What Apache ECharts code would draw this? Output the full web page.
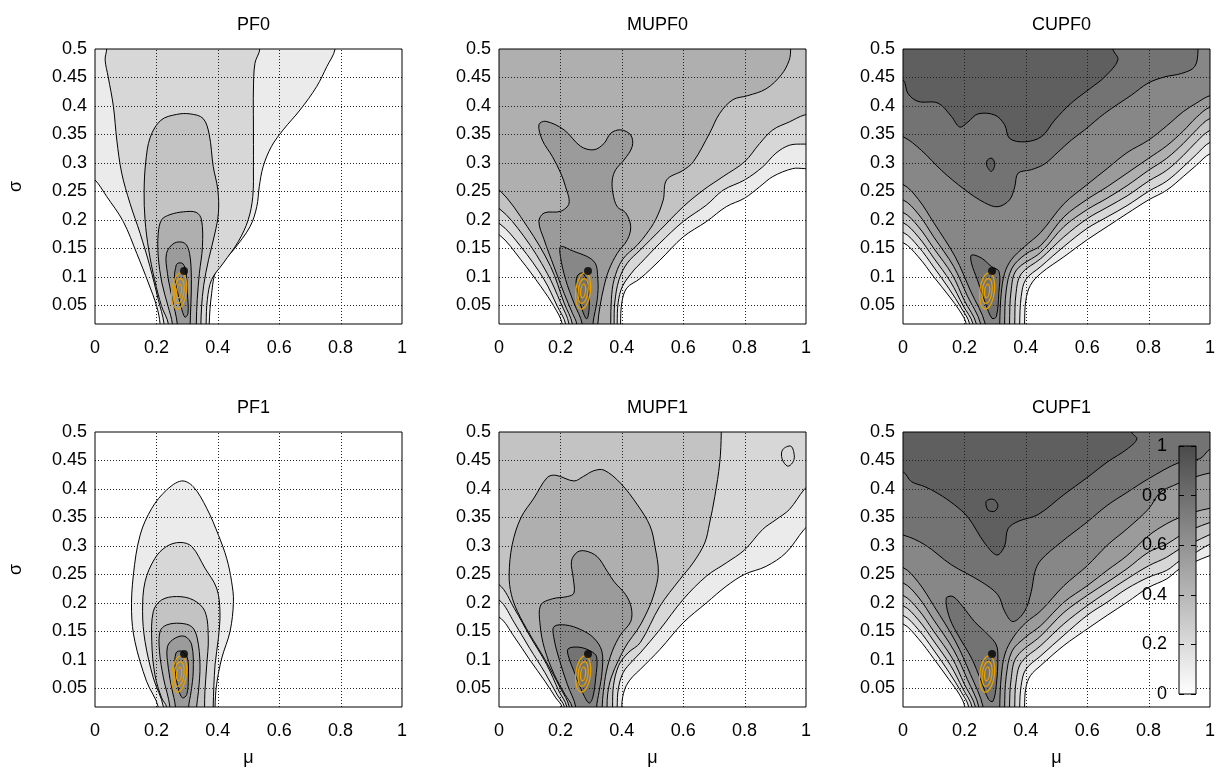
<!DOCTYPE html>
<html><head><meta charset="utf-8">
<script src="https://cdn.jsdelivr.net/npm/echarts@6/dist/echarts.min.js"></script>
<style>html,body{margin:0;padding:0;background:#fff}#c{width:1223px;height:770px}</style>
</head><body><div id="c"></div>
<script>
// ---------- axes / ticks ----------
const xTicks = [0, 0.2, 0.4, 0.6, 0.8, 1];
const yTicks = [0.05, 0.1, 0.15, 0.2, 0.25, 0.3, 0.35, 0.4, 0.45, 0.5];
const Y_MIN = 0.017, Y_MAX = 0.5;
const cbTicks = [0, 0.2, 0.4, 0.6, 0.8, 1];
const panelTitles = ['PF0', 'MUPF0', 'CUPF0', 'PF1', 'MUPF1', 'CUPF1'];
// fill gray for band k = [0.1k, 0.1(k+1)]
const bandColors = ['#ffffff','#ebebeb','#d7d7d7','#c3c3c3','#afafaf','#9b9b9b','#878787','#737373','#5f5f5f','#4b4b4b'];

// ---------- markers (same in every panel) ----------
const ellipseCenter = [0.274, 0.075];
const ellipseRadii = [[0.024, 0.032], [0.016, 0.022], [0.008, 0.012]];
const truthPoint = [0.29, 0.11];

// ---------- PF0 contours (mu, sigma) ----------
const PF0_c1 = [[-0.05,0.6],[-0.05,0.29],[0,0.270],[0.038,0.241],[0.092,0.197],[0.136,0.141],[0.174,0.089],[0.201,0.048],[0.212,0.017],[0.214,-0.03],[0.372,-0.03],[0.372,0.017],[0.380,0.071],[0.396,0.112],[0.451,0.147],[0.505,0.188],[0.527,0.223],[0.535,0.258],[0.548,0.294],[0.575,0.329],[0.613,0.358],[0.668,0.393],[0.722,0.434],[0.755,0.469],[0.782,0.5],[0.80,0.6]];
const PF0_c2 = [[0.04,0.6],[0.038,0.5],[0.033,0.481],[0.043,0.451],[0.060,0.399],[0.071,0.340],[0.087,0.282],[0.114,0.229],[0.147,0.176],[0.179,0.118],[0.206,0.060],[0.225,0.017],[0.227,-0.03],[0.362,-0.03],[0.362,0.017],[0.366,0.060],[0.380,0.095],[0.418,0.124],[0.467,0.162],[0.499,0.200],[0.514,0.241],[0.516,0.294],[0.516,0.370],[0.516,0.428],[0.521,0.475],[0.537,0.5],[0.545,0.6]];
const PF0_c3 = [[0.239,-0.03],[0.239,0.017],[0.217,0.048],[0.194,0.095],[0.175,0.147],[0.163,0.200],[0.160,0.250],[0.165,0.300],[0.180,0.345],[0.215,0.375],[0.265,0.385],[0.310,0.386],[0.352,0.378],[0.372,0.350],[0.385,0.294],[0.400,0.253],[0.402,0.212],[0.390,0.175],[0.370,0.130],[0.354,0.085],[0.347,0.045],[0.345,0.017],[0.345,-0.03]];
const PF0_c4 = [[0.252,-0.03],[0.252,0.017],[0.238,0.048],[0.218,0.089],[0.206,0.136],[0.206,0.176],[0.217,0.200],[0.244,0.209],[0.288,0.214],[0.330,0.213],[0.347,0.200],[0.350,0.153],[0.340,0.106],[0.333,0.060],[0.330,0.017],[0.330,-0.03]];
const PF0_c5 = [[0.268,-0.03],[0.268,0.017],[0.252,0.060],[0.236,0.106],[0.233,0.141],[0.258,0.159],[0.292,0.159],[0.308,0.141],[0.314,0.095],[0.312,0.048],[0.310,0.017],[0.310,-0.03]];
const PF0_c6 = [[0.262,0.114],[0.268,0.123],[0.286,0.123],[0.297,0.106],[0.301,0.071],[0.303,0.036],[0.293,0.029],[0.280,0.048],[0.267,0.077],[0.259,0.100]];
const PF0_levels = [1, 2, 3, 4, 5, 6];

// ---------- MUPF0 ----------
const MUPF0_c1 = [[-0.05,0.6],[-0.05,0.18],[0,0.174],[0.071,0.130],[0.136,0.083],[0.179,0.048],[0.206,0.017],[0.207,-0.03],[0.396,-0.03],[0.396,0.017],[0.400,0.054],[0.416,0.080],[0.460,0.097],[0.524,0.129],[0.600,0.170],[0.676,0.197],[0.740,0.223],[0.800,0.238],[0.849,0.258],[0.892,0.276],[0.957,0.290],[0.994,0.290],[1.05,0.29],[1.05,0.6]];
const MUPF0_c2 = [[-0.05,0.6],[-0.05,0.2],[0,0.194],[0.071,0.153],[0.147,0.095],[0.190,0.048],[0.217,0.017],[0.218,-0.03],[0.385,-0.03],[0.385,0.017],[0.388,0.054],[0.402,0.083],[0.440,0.112],[0.460,0.123],[0.524,0.159],[0.600,0.197],[0.676,0.226],[0.730,0.252],[0.800,0.270],[0.859,0.293],[0.902,0.317],[0.946,0.331],[0.994,0.333],[1.05,0.333],[1.05,0.6]];
const MUPF0_c3 = [[-0.05,0.6],[-0.05,0.225],[0,0.220],[0.081,0.171],[0.157,0.106],[0.201,0.054],[0.228,0.017],[0.229,-0.03],[0.375,-0.03],[0.375,0.017],[0.377,0.054],[0.391,0.095],[0.418,0.124],[0.460,0.147],[0.525,0.182],[0.600,0.223],[0.665,0.252],[0.730,0.276],[0.800,0.302],[0.849,0.334],[0.892,0.358],[0.946,0.372],[0.994,0.384],[1.05,0.39],[1.05,0.6]];
const MUPF0_c4 = [[-0.05,0.6],[-0.05,0.26],[0,0.253],[0.092,0.188],[0.168,0.118],[0.212,0.054],[0.239,0.017],[0.240,-0.03],[0.364,-0.03],[0.364,0.017],[0.366,0.060],[0.375,0.095],[0.402,0.130],[0.451,0.156],[0.480,0.175],[0.510,0.200],[0.535,0.235],[0.546,0.270],[0.600,0.287],[0.633,0.302],[0.686,0.352],[0.719,0.387],[0.762,0.411],[0.81,0.418],[0.87,0.43],[0.92,0.455],[0.945,0.48],[0.95,0.5],[0.95,0.6]];
const MUPF0_c5 = [[0.253,-0.03],[0.253,0.017],[0.239,0.036],[0.212,0.071],[0.179,0.118],[0.147,0.165],[0.130,0.197],[0.147,0.212],[0.201,0.215],[0.228,0.229],[0.217,0.258],[0.201,0.282],[0.174,0.311],[0.141,0.340],[0.130,0.367],[0.152,0.373],[0.212,0.358],[0.266,0.329],[0.309,0.323],[0.342,0.334],[0.364,0.352],[0.396,0.358],[0.429,0.349],[0.434,0.329],[0.407,0.305],[0.380,0.288],[0.369,0.270],[0.371,0.247],[0.385,0.223],[0.413,0.212],[0.429,0.188],[0.418,0.165],[0.385,0.141],[0.358,0.112],[0.342,0.083],[0.329,0.048],[0.322,0.017],[0.322,-0.03]];
const MUPF0_c6 = [[0.271,-0.03],[0.271,0.017],[0.244,0.054],[0.217,0.095],[0.200,0.136],[0.201,0.153],[0.233,0.147],[0.309,0.127],[0.322,0.095],[0.320,0.060],[0.306,0.017],[0.306,-0.03]];
const MUPF0_c7 = [[0.257,0.103],[0.274,0.106],[0.290,0.083],[0.294,0.048],[0.286,0.026],[0.271,0.042],[0.257,0.071],[0.251,0.089]];
const MUPF0_levels = [1, 2, 3, 4, 5, 6, 7];

// ---------- CUPF0 ----------
const CUPF0_c1 = [[-0.05,0.6],[-0.05,0.16],[0,0.160],[0.05,0.135],[0.10,0.100],[0.15,0.066],[0.185,0.040],[0.206,0.017],[0.207,-0.03],[0.396,-0.03],[0.396,0.017],[0.400,0.058],[0.415,0.085],[0.449,0.106],[0.524,0.135],[0.600,0.165],[0.665,0.188],[0.730,0.211],[0.800,0.235],[0.859,0.252],[0.913,0.276],[0.956,0.296],[1.0,0.316],[1.05,0.32],[1.05,0.6]];
const CUPF0_c2 = [[-0.05,0.6],[-0.05,0.178],[0,0.178],[0.05,0.153],[0.10,0.117],[0.15,0.079],[0.19,0.045],[0.217,0.017],[0.218,-0.03],[0.380,-0.03],[0.380,0.017],[0.385,0.065],[0.400,0.095],[0.449,0.118],[0.524,0.153],[0.600,0.185],[0.665,0.205],[0.730,0.225],[0.800,0.250],[0.859,0.268],[0.913,0.293],[0.956,0.315],[1.0,0.336],[1.05,0.34],[1.05,0.6]];
const CUPF0_c3 = [[-0.05,0.6],[-0.05,0.195],[0,0.195],[0.05,0.170],[0.10,0.133],[0.155,0.091],[0.195,0.050],[0.228,0.017],[0.229,-0.03],[0.364,-0.03],[0.364,0.017],[0.368,0.070],[0.385,0.105],[0.449,0.132],[0.524,0.170],[0.600,0.202],[0.665,0.222],[0.730,0.242],[0.800,0.268],[0.859,0.287],[0.913,0.313],[0.956,0.337],[1.0,0.357],[1.05,0.36],[1.05,0.6]];
const CUPF0_c4 = [[-0.05,0.6],[-0.05,0.213],[0,0.213],[0.05,0.188],[0.10,0.150],[0.16,0.104],[0.20,0.058],[0.239,0.017],[0.240,-0.03],[0.347,-0.03],[0.347,0.017],[0.352,0.075],[0.370,0.112],[0.449,0.143],[0.524,0.188],[0.600,0.218],[0.665,0.238],[0.730,0.260],[0.800,0.287],[0.859,0.308],[0.913,0.334],[0.956,0.358],[1.0,0.378],[1.05,0.38],[1.05,0.6]];
const CUPF0_c5 = [[-0.05,0.6],[-0.05,0.235],[0,0.235],[0.05,0.210],[0.10,0.170],[0.165,0.118],[0.21,0.066],[0.253,0.017],[0.254,-0.03],[0.331,-0.03],[0.331,0.017],[0.336,0.075],[0.355,0.115],[0.400,0.140],[0.449,0.155],[0.524,0.205],[0.600,0.236],[0.665,0.258],[0.730,0.282],[0.800,0.308],[0.859,0.330],[0.913,0.356],[0.956,0.380],[1.0,0.398],[1.05,0.40],[1.05,0.6]];
const CUPF0_c6 = [[-0.05,0.6],[-0.05,0.262],[0,0.262],[0.05,0.236],[0.10,0.195],[0.17,0.135],[0.22,0.075],[0.268,0.017],[0.269,-0.03],[0.315,-0.03],[0.315,0.017],[0.320,0.071],[0.331,0.106],[0.353,0.130],[0.396,0.153],[0.449,0.178],[0.524,0.228],[0.600,0.262],[0.665,0.290],[0.730,0.318],[0.800,0.340],[0.859,0.365],[0.913,0.390],[0.956,0.405],[1.0,0.418],[1.05,0.42],[1.05,0.6]];
const CUPF0_c7 = [[-0.05,0.6],[-0.05,0.35],[0,0.346],[0.060,0.322],[0.125,0.287],[0.201,0.253],[0.266,0.230],[0.309,0.223],[0.347,0.235],[0.364,0.258],[0.375,0.282],[0.418,0.288],[0.461,0.298],[0.505,0.319],[0.548,0.340],[0.592,0.358],[0.657,0.387],[0.744,0.419],[0.798,0.440],[0.852,0.451],[0.907,0.457],[0.950,0.469],[0.961,0.498],[0.965,0.6]];
const CUPF0_c8 = [[-0.05,0.6],[-0.05,0.45],[0,0.446],[0.016,0.422],[0.049,0.408],[0.114,0.405],[0.157,0.382],[0.185,0.363],[0.212,0.372],[0.244,0.386],[0.299,0.384],[0.331,0.367],[0.347,0.343],[0.396,0.337],[0.451,0.346],[0.494,0.375],[0.548,0.405],[0.613,0.432],[0.657,0.451],[0.700,0.481],[0.684,0.5],[0.68,0.6]];
const CUPF0_c9 = [[0.223,0.138],[0.255,0.133],[0.288,0.118],[0.313,0.109],[0.312,0.071],[0.304,0.030],[0.290,0.027],[0.268,0.054],[0.242,0.095],[0.223,0.124]];
const CUPF0_c10 = [[0.275,0.305],[0.290,0.308],[0.299,0.297],[0.288,0.285],[0.273,0.295]];
const CUPF0_levels = [1, 2, 3, 4, 5, 6, 7, 8, 7, 8];

// ---------- PF1 ----------
const PF1_c1 = [[0.206,-0.03],[0.206,0.017],[0.168,0.062],[0.130,0.132],[0.119,0.185],[0.125,0.249],[0.147,0.319],[0.185,0.366],[0.233,0.398],[0.282,0.414],[0.320,0.404],[0.364,0.366],[0.402,0.319],[0.429,0.278],[0.445,0.237],[0.451,0.202],[0.440,0.150],[0.413,0.103],[0.396,0.056],[0.391,0.017],[0.391,-0.03]];
const PF1_c2 = [[0.223,-0.03],[0.223,0.017],[0.190,0.068],[0.163,0.132],[0.155,0.185],[0.163,0.237],[0.195,0.278],[0.233,0.299],[0.277,0.306],[0.315,0.299],[0.358,0.261],[0.396,0.226],[0.407,0.185],[0.402,0.138],[0.391,0.091],[0.385,0.017],[0.385,-0.03]];
const PF1_c3 = [[0.233,-0.03],[0.233,0.017],[0.217,0.033],[0.195,0.074],[0.185,0.132],[0.190,0.185],[0.217,0.205],[0.266,0.211],[0.320,0.205],[0.358,0.185],[0.369,0.138],[0.364,0.091],[0.358,0.044],[0.357,0.017],[0.357,-0.03]];
const PF1_c4 = [[0.244,-0.03],[0.244,0.017],[0.223,0.068],[0.210,0.115],[0.212,0.150],[0.233,0.161],[0.277,0.164],[0.315,0.158],[0.333,0.138],[0.342,0.091],[0.337,0.044],[0.331,0.017],[0.331,-0.03]];
const PF1_c5 = [[0.262,-0.03],[0.262,0.017],[0.250,0.050],[0.239,0.085],[0.236,0.123],[0.261,0.138],[0.293,0.141],[0.315,0.126],[0.320,0.080],[0.313,0.044],[0.305,0.017],[0.305,-0.03]];
const PF1_c6 = [[0.264,0.112],[0.282,0.115],[0.301,0.103],[0.304,0.068],[0.299,0.039],[0.285,0.033],[0.271,0.050],[0.261,0.085]];
const PF1_levels = [1, 2, 3, 4, 5, 6];

// ---------- MUPF1 ----------
const MUPF1_c1 = [[-0.05,0.6],[-0.05,0.175],[0,0.175],[0.05,0.140],[0.10,0.100],[0.15,0.062],[0.185,0.033],[0.205,0.017],[0.206,-0.03],[0.400,-0.03],[0.400,0.017],[0.403,0.035],[0.415,0.055],[0.435,0.070],[0.460,0.083],[0.524,0.118],[0.600,0.165],[0.676,0.200],[0.740,0.229],[0.800,0.250],[0.870,0.264],[0.935,0.288],[0.994,0.329],[1.05,0.36],[1.05,0.6]];
const MUPF1_c2 = [[-0.05,0.6],[-0.05,0.205],[0,0.205],[0.05,0.165],[0.10,0.120],[0.15,0.077],[0.19,0.038],[0.213,0.017],[0.214,-0.03],[0.385,-0.03],[0.385,0.017],[0.389,0.050],[0.405,0.078],[0.435,0.098],[0.460,0.112],[0.524,0.153],[0.600,0.206],[0.676,0.247],[0.740,0.270],[0.800,0.293],[0.859,0.329],[0.902,0.346],[0.946,0.364],[0.994,0.399],[1.05,0.43],[1.05,0.6]];
const MUPF1_c3 = [[-0.05,0.6],[-0.05,0.232],[0,0.232],[0.05,0.190],[0.10,0.142],[0.155,0.092],[0.195,0.045],[0.221,0.017],[0.222,-0.03],[0.370,-0.03],[0.370,0.017],[0.373,0.055],[0.390,0.090],[0.420,0.112],[0.460,0.130],[0.524,0.194],[0.589,0.241],[0.632,0.270],[0.670,0.305],[0.686,0.340],[0.703,0.387],[0.719,0.446],[0.724,0.499],[0.725,0.6]];
const MUPF1_c4 = [[0.229,-0.03],[0.229,0.017],[0.20,0.05],[0.15,0.10],[0.10,0.145],[0.06,0.185],[0.040,0.215],[0.033,0.249],[0.043,0.302],[0.071,0.349],[0.114,0.384],[0.157,0.420],[0.185,0.424],[0.244,0.414],[0.275,0.422],[0.309,0.432],[0.342,0.433],[0.396,0.410],[0.451,0.372],[0.492,0.335],[0.508,0.299],[0.519,0.253],[0.503,0.212],[0.476,0.177],[0.450,0.152],[0.420,0.130],[0.390,0.100],[0.365,0.068],[0.354,0.040],[0.352,0.017],[0.352,-0.03]];
const MUPF1_c5 = [[0.238,-0.03],[0.238,0.017],[0.215,0.039],[0.180,0.074],[0.148,0.120],[0.134,0.161],[0.136,0.196],[0.174,0.207],[0.223,0.211],[0.244,0.217],[0.242,0.243],[0.236,0.273],[0.255,0.289],[0.282,0.291],[0.320,0.281],[0.353,0.255],[0.375,0.237],[0.413,0.214],[0.431,0.191],[0.429,0.167],[0.396,0.144],[0.369,0.115],[0.350,0.080],[0.340,0.044],[0.336,0.017],[0.336,-0.03]];
const MUPF1_c6 = [[0.250,-0.03],[0.250,0.017],[0.223,0.056],[0.195,0.103],[0.179,0.138],[0.179,0.158],[0.217,0.161],[0.266,0.153],[0.309,0.138],[0.335,0.115],[0.336,0.080],[0.326,0.044],[0.318,0.017],[0.318,-0.03]];
const MUPF1_c7 = [[0.225,0.119],[0.261,0.122],[0.299,0.115],[0.318,0.105],[0.315,0.068],[0.305,0.033],[0.293,0.024],[0.271,0.044],[0.244,0.080],[0.228,0.103]];
const MUPF1_c8 = [[0.924,0.469],[0.951,0.475],[0.962,0.458],[0.956,0.446],[0.940,0.440],[0.922,0.453]];
const MUPF1_levels = [1, 2, 3, 4, 5, 6, 7, 2];

// ---------- CUPF1 ----------
const CUPF1_c1 = [[-0.05,0.6],[-0.05,0.163],[0,0.163],[0.05,0.137],[0.10,0.102],[0.15,0.065],[0.185,0.038],[0.201,0.017],[0.202,-0.03],[0.396,-0.03],[0.396,0.017],[0.400,0.050],[0.415,0.072],[0.449,0.090],[0.524,0.125],[0.600,0.154],[0.665,0.178],[0.730,0.201],[0.800,0.227],[0.859,0.242],[0.902,0.260],[0.946,0.271],[1.0,0.283],[1.05,0.29],[1.05,0.6]];
const CUPF1_c2 = [[-0.05,0.6],[-0.05,0.178],[0,0.178],[0.05,0.153],[0.10,0.117],[0.15,0.078],[0.19,0.043],[0.214,0.017],[0.215,-0.03],[0.380,-0.03],[0.380,0.017],[0.385,0.055],[0.400,0.083],[0.449,0.107],[0.524,0.143],[0.600,0.178],[0.665,0.201],[0.730,0.225],[0.800,0.245],[0.859,0.257],[0.902,0.274],[0.946,0.286],[1.0,0.303],[1.05,0.31],[1.05,0.6]];
const CUPF1_c3 = [[-0.05,0.6],[-0.05,0.195],[0,0.195],[0.05,0.170],[0.10,0.133],[0.155,0.090],[0.195,0.049],[0.225,0.017],[0.226,-0.03],[0.364,-0.03],[0.364,0.017],[0.368,0.060],[0.385,0.095],[0.449,0.125],[0.524,0.163],[0.600,0.195],[0.665,0.219],[0.730,0.242],[0.800,0.265],[0.859,0.280],[0.902,0.295],[0.946,0.306],[1.0,0.320],[1.05,0.33],[1.05,0.6]];
const CUPF1_c4 = [[-0.05,0.6],[-0.05,0.213],[0,0.213],[0.05,0.188],[0.10,0.150],[0.16,0.103],[0.20,0.057],[0.236,0.017],[0.237,-0.03],[0.347,-0.03],[0.347,0.017],[0.352,0.065],[0.370,0.105],[0.449,0.142],[0.524,0.183],[0.600,0.213],[0.665,0.236],[0.730,0.260],[0.800,0.289],[0.859,0.303],[0.902,0.318],[0.946,0.330],[1.0,0.341],[1.05,0.35],[1.05,0.6]];
const CUPF1_c5 = [[-0.05,0.6],[-0.05,0.235],[0,0.235],[0.05,0.210],[0.10,0.170],[0.165,0.117],[0.21,0.065],[0.247,0.017],[0.248,-0.03],[0.331,-0.03],[0.331,0.017],[0.336,0.070],[0.355,0.115],[0.400,0.140],[0.449,0.160],[0.524,0.201],[0.600,0.230],[0.665,0.257],[0.730,0.283],[0.800,0.318],[0.859,0.339],[0.902,0.350],[0.946,0.359],[1.0,0.366],[1.05,0.37],[1.05,0.6]];
const CUPF1_c6 = [[-0.05,0.6],[-0.05,0.262],[0,0.262],[0.05,0.236],[0.10,0.195],[0.17,0.133],[0.22,0.074],[0.261,0.017],[0.262,-0.03],[0.315,-0.03],[0.315,0.017],[0.320,0.070],[0.332,0.110],[0.360,0.140],[0.400,0.165],[0.449,0.186],[0.524,0.230],[0.600,0.265],[0.665,0.301],[0.730,0.330],[0.800,0.365],[0.838,0.394],[0.881,0.406],[0.935,0.418],[1.0,0.428],[1.05,0.43],[1.05,0.6]];
const CUPF1_c7 = [[-0.05,0.6],[-0.05,0.32],[0,0.319],[0.071,0.302],[0.157,0.267],[0.255,0.237],[0.309,0.214],[0.331,0.185],[0.358,0.167],[0.396,0.185],[0.418,0.220],[0.430,0.255],[0.449,0.275],[0.514,0.306],[0.600,0.342],[0.665,0.371],[0.730,0.394],[0.800,0.418],[0.902,0.447],[0.967,0.453],[1.0,0.47],[1.05,0.48],[1.05,0.6]];
const CUPF1_c8 = [[-0.05,0.6],[-0.05,0.43],[0,0.430],[0.027,0.413],[0.071,0.404],[0.114,0.392],[0.168,0.372],[0.212,0.350],[0.266,0.305],[0.306,0.284],[0.331,0.300],[0.342,0.330],[0.375,0.343],[0.440,0.355],[0.524,0.390],[0.600,0.420],[0.665,0.447],[0.730,0.470],[0.762,0.488],[0.745,0.5],[0.74,0.6]];
const CUPF1_c9 = [[0.141,0.208],[0.163,0.211],[0.195,0.193],[0.233,0.167],[0.277,0.144],[0.304,0.126],[0.309,0.103],[0.304,0.056],[0.293,0.027],[0.279,0.030],[0.255,0.062],[0.223,0.103],[0.185,0.138],[0.152,0.173]];
const CUPF1_c10 = [[0.271,0.378],[0.293,0.382],[0.309,0.372],[0.299,0.361],[0.277,0.363]];
const CUPF1_levels = [1, 2, 3, 4, 5, 6, 7, 8, 7, 8];

const panelContours = [
  [PF0_c1, PF0_c2, PF0_c3, PF0_c4, PF0_c5, PF0_c6],
  [MUPF0_c1, MUPF0_c2, MUPF0_c3, MUPF0_c4, MUPF0_c5, MUPF0_c6, MUPF0_c7],
  [CUPF0_c1, CUPF0_c2, CUPF0_c3, CUPF0_c4, CUPF0_c5, CUPF0_c6, CUPF0_c7, CUPF0_c8, CUPF0_c9, CUPF0_c10],
  [PF1_c1, PF1_c2, PF1_c3, PF1_c4, PF1_c5, PF1_c6],
  [MUPF1_c1, MUPF1_c2, MUPF1_c3, MUPF1_c4, MUPF1_c5, MUPF1_c6, MUPF1_c7, MUPF1_c8],
  [CUPF1_c1, CUPF1_c2, CUPF1_c3, CUPF1_c4, CUPF1_c5, CUPF1_c6, CUPF1_c7, CUPF1_c8, CUPF1_c9, CUPF1_c10]
];
const panelLevels = [PF0_levels, MUPF0_levels, CUPF0_levels, PF1_levels, MUPF1_levels, CUPF1_levels];

// ---------- layout ----------
const FONT = 'Liberation Sans, Arial, sans-serif';
const gridLefts = [95, 499, 903];
const gridTops = [49, 432];
const GW = 307, GH = 275;

const grids = [], xAxes = [], yAxes = [], series = [], titles = [];
for (let p = 0; p < 6; p++) {
  const col = p % 3, row = Math.floor(p / 3);
  grids.push({left: gridLefts[col], top: gridTops[row], width: GW, height: GH,
    show: true, borderColor: '#000', borderWidth: 1, backgroundColor: 'transparent', z: 5});
  titles.push({text: panelTitles[p], left: gridLefts[col] + GW / 2, top: gridTops[row] - 38, textAlign: 'center',
    textStyle: {fontFamily: FONT, fontSize: 18, fontWeight: 'normal', color: '#000'}});
  xAxes.push({type: 'value', gridIndex: p, min: 0, max: 1, interval: 0.2,
    axisLine: {show: false}, axisTick: {show: false}, splitLine: {show: false},
    axisLabel: {fontFamily: FONT, fontSize: 18, color: '#000', margin: 15},
    name: row === 1 ? 'μ' : '', nameLocation: 'middle', nameGap: 42,
    nameTextStyle: {fontFamily: FONT, fontSize: 18, color: '#000'}, z: 5});
  yAxes.push({type: 'value', gridIndex: p, min: Y_MIN, max: Y_MAX,
    axisLine: {show: false}, axisTick: {show: false}, splitLine: {show: false},
    axisLabel: {fontFamily: FONT, fontSize: 18, color: '#000', margin: 8, customValues: yTicks, showMinLabel: true, showMaxLabel: true},
    name: col === 0 ? 'σ' : '', nameLocation: 'middle', nameGap: 70, nameRotate: 90,
    nameTextStyle: {fontFamily: FONT, fontSize: 18, color: '#000'}, z: 5});

  const contours = panelContours[p], levels = panelLevels[p];
  series.push({
    type: 'custom', xAxisIndex: p, yAxisIndex: p, z: 1, silent: true, clip: true, animation: false,
    data: contours.map((c, i) => [0.5, 0.25, i]),
    renderItem: (params, api) => {
      const c = contours[params.dataIndex];
      return {type: 'polygon', shape: {points: c.map(pt => api.coord(pt)), smooth: 0.35},
        style: {fill: bandColors[levels[params.dataIndex]], stroke: '#000', lineWidth: 1}};
    }
  });
  // dotted grid lines at tick values
  series.push({
    type: 'custom', xAxisIndex: p, yAxisIndex: p, z: 2, silent: true, animation: false,
    data: [[0.5, 0.25]],
    renderItem: (params, api) => {
      const children = [];
      xTicks.slice(1, -1).forEach(v => {
        const a = api.coord([v, Y_MIN]), b = api.coord([v, Y_MAX]);
        const x = Math.round(a[0]) + 0.5;
        children.push({type: 'line', shape: {x1: x, y1: a[1], x2: x, y2: b[1]},
          style: {stroke: '#222', lineWidth: 1, lineDash: [1, 2]}});
      });
      yTicks.slice(0, -1).forEach(v => {
        const a = api.coord([0, v]), b = api.coord([1, v]);
        const y = Math.round(a[1]) + 0.5;
        children.push({type: 'line', shape: {x1: a[0], y1: y, x2: b[0], y2: y},
          style: {stroke: '#222', lineWidth: 1, lineDash: [1, 2]}});
      });
      return {type: 'group', children};
    }
  });
  // orange ellipses
  series.push({
    type: 'custom', xAxisIndex: p, yAxisIndex: p, z: 3, silent: true, animation: false,
    data: [ellipseCenter],
    renderItem: (params, api) => {
      const c = api.coord(ellipseCenter);
      return {type: 'group', children: ellipseRadii.map(r => {
        const s = api.size(r, ellipseCenter);
        return {type: 'ellipse', x: c[0], y: c[1], rotation: -0.12,
          shape: {cx: 0, cy: 0, rx: s[0], ry: s[1]},
          style: {fill: 'none', stroke: '#e69f00', lineWidth: 1.3}};
      })};
    }
  });
  series.push({type: 'scatter', xAxisIndex: p, yAxisIndex: p, z: 4, silent: true, animation: false,
    data: [truthPoint], symbol: 'circle', symbolSize: 8, itemStyle: {color: '#000'}});
}

// colorbar
grids.push({left: 1179, top: 446, width: 17, height: 248, show: false, z: 8});
xAxes.push({type: 'value', gridIndex: 6, min: 0, max: 1, show: false});
yAxes.push({type: 'value', gridIndex: 6, min: 0, max: 1, interval: 0.2, position: 'left', z: 9,
  axisLine: {show: false}, splitLine: {show: false},
  axisTick: {show: true, inside: true, length: 5, lineStyle: {color: '#000', width: 1}},
  axisLabel: {fontFamily: FONT, fontSize: 18, color: '#000', margin: 12}});
yAxes.push({type: 'value', gridIndex: 6, min: 0, max: 1, interval: 0.2, position: 'right', z: 9,
  axisLine: {show: false}, splitLine: {show: false}, axisLabel: {show: false},
  axisTick: {show: true, inside: true, length: 5, lineStyle: {color: '#000', width: 1}}});
series.push({
  type: 'custom', xAxisIndex: 6, yAxisIndex: 6, z: 8, silent: true, animation: false,
  data: [[0.5, 0.5]],
  renderItem: (params, api) => {
    const tl = api.coord([0, cbTicks[cbTicks.length - 1]]), br = api.coord([1, cbTicks[0]]);
    return {type: 'rect', shape: {x: tl[0], y: tl[1], width: br[0] - tl[0], height: br[1] - tl[1]},
      style: {fill: new echarts.graphic.LinearGradient(0, 0, 0, 1, [
        {offset: 0, color: '#4a4a4a'}, {offset: 1, color: '#ffffff'}]), stroke: '#000', lineWidth: 1}};
  }
});

const chart = echarts.init(document.getElementById('c'), null, {renderer: 'canvas'});
chart.setOption({
  animation: false, backgroundColor: '#fff',
  title: titles, grid: grids, xAxis: xAxes, yAxis: yAxes, series: series
});
</script></body></html>
